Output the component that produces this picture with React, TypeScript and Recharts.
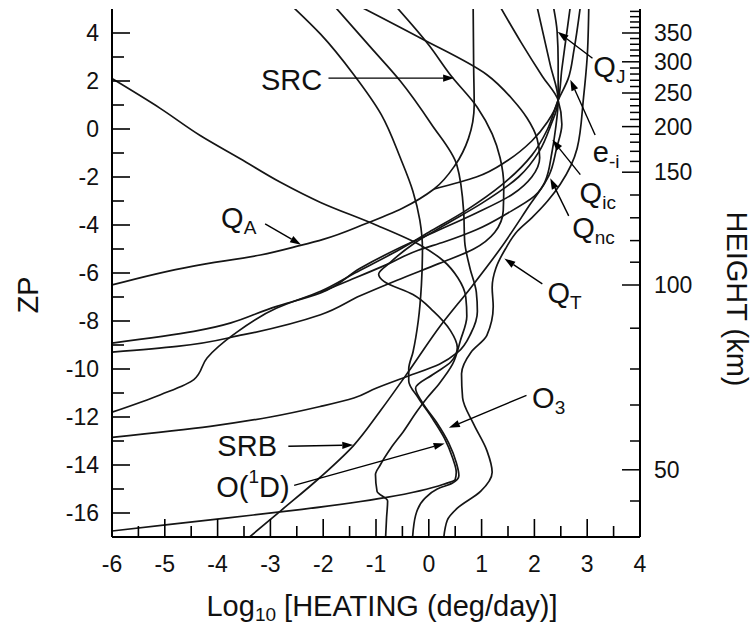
import React from "react";
import { LineChart, Line, XAxis, YAxis, ReferenceLine, ReferenceDot } from "recharts";

const FONT = "'Liberation Sans', Arial, Helvetica, sans-serif";

// [log10 heating, ZP]
const qT = [[3.03,5.1],[3.0,3.0],[2.93,1.3],[2.81,-0.8],[2.49,-2.3],[2.25,-3.0],[1.95,-3.7],[1.68,-4.25],[1.45,-5.0],[1.27,-5.8],[1.2,-6.6],[1.22,-7.4],[1.1,-8.6],[0.8,-9.3],[0.62,-10.2],[0.64,-11.2],[0.85,-12.3],[1.1,-13.4],[1.2,-14.3],[0.98,-15.1],[0.54,-15.8],[0.35,-16.3],[0.28,-17.1]];
const curveA = [[-6,2.1],[-5.08,0.85],[-4.33,-0.27],[-3.57,-1.24],[-2.81,-2.22],[-2.05,-3.06],[-1.0,-4.0],[-0.15,-4.85],[0.28,-5.5],[0.55,-6.2],[0.7,-7.0],[0.72,-7.8],[0.6,-8.8],[0.45,-9.8],[0.2,-10.6],[-0.03,-11.2],[-0.22,-11.75],[-0.48,-12.6],[-0.72,-13.3],[-0.92,-14.0],[-1.01,-14.4],[-0.98,-15.1],[-0.78,-15.5],[-0.8,-16.2],[-0.82,-17.1]];
const curveB = [[-1.78,5.1],[-1.1,3.4],[-0.54,2.0],[0.05,0.2],[0.53,-1.49],[0.66,-3.43],[0.68,-4.7],[0.78,-5.8],[0.9,-6.8],[0.92,-7.6],[0.8,-8.5],[0.55,-9.3],[0.2,-9.8],[-0.4,-10.3],[-1.0,-10.8],[-1.42,-11.21],[-2.05,-11.56],[-3.0,-12.0],[-4.14,-12.39],[-6,-12.85]];
const o3 = [[-2.58,5.1],[-2.05,3.95],[-1.42,2.26],[-0.9,0.6],[-0.54,-1.2],[-0.3,-2.6],[-0.17,-3.8],[-0.12,-5.0],[-0.14,-6.5],[-0.2,-8.0],[-0.3,-9.3],[-0.38,-10.0],[-0.38,-10.5],[-0.2,-11.2],[0.05,-12.0],[0.3,-12.9],[0.45,-13.7],[0.52,-14.3],[0.5,-14.6],[0.28,-14.8],[-0.8,-15.35],[-2.4,-15.85],[-3.8,-16.2],[-6,-16.75]];
const o1d = [[2.36,5.1],[2.43,4.07],[2.45,2.8],[2.45,1.2],[2.3,0.1],[2.1,-0.9],[1.7,-2.0],[1.0,-3.1],[0.3,-4.0],[-0.3,-4.8],[-0.75,-5.6],[-0.95,-6.05],[-0.85,-6.35],[-0.3,-6.9],[0.09,-7.6],[0.41,-8.4],[0.54,-9.1],[0.42,-9.7],[0.1,-10.2],[-0.25,-10.8],[-0.12,-11.4],[0.14,-12.2],[0.38,-13.1],[0.52,-13.9],[0.57,-14.45],[0.45,-14.75],[0.16,-15.0],[-0.08,-15.4],[-0.25,-16.1],[-0.31,-17.1]];
const src = [[-0.62,5.1],[0.0,3.5],[0.41,2.25],[0.92,0.9],[1.2,-0.2],[1.35,-1.2],[1.42,-2.4],[1.41,-3.4],[1.25,-4.3],[0.85,-5.0],[0.2,-5.6],[-0.6,-6.3],[-1.3,-6.95],[-2.05,-7.74],[-3.51,-8.57],[-4.77,-9.06],[-6,-9.3]];
const qA = [[0.84,5.1],[0.85,2.5],[0.86,1.0],[0.75,-0.4],[0.5,-1.5],[0.1,-2.5],[-0.5,-3.3],[-1.2,-3.95],[-2.0,-4.6],[-2.43,-4.85],[-3.19,-5.25],[-4.46,-5.71],[-6,-6.5]];
const curveC = [[-1.3,5.1],[-0.16,3.79],[1.1,2.26],[1.6,1.2],[1.86,0.46],[2.05,-0.4],[2.1,-1.2],[1.95,-2.0],[1.6,-2.7],[0.9,-3.5],[0.1,-4.3],[-0.6,-5.0],[-1.3,-5.8],[-2.05,-6.83],[-2.88,-7.39],[-4.45,-8.43],[-6,-8.92]];
const eI = [[2.87,5.1],[2.75,3.3],[2.64,2.1],[2.45,1.2],[2.25,0.0],[1.95,-1.1],[1.4,-2.3],[0.7,-3.4],[0.0,-4.3],[-0.7,-5.2],[-1.4,-6.0],[-2.05,-6.76],[-2.88,-7.46],[-3.7,-8.57],[-4.2,-9.54],[-4.45,-10.44],[-5.08,-11.07],[-6,-11.8]];
const qIc = [[2.05,5.1],[2.3,2.67],[2.45,1.2],[2.4,0.0],[2.33,-1.0],[2.2,-2.2],[1.9,-3.2],[1.35,-5.0],[0.8,-6.6],[0.22,-8.2],[-0.35,-10.0],[-0.92,-11.75],[-1.43,-13.2],[-2.05,-14.5],[-2.8,-15.9],[-3.45,-17.1]];
const qNc = [[1.35,5.1],[1.75,3.6],[2.15,2.2],[2.45,1.2],[2.52,0.2],[2.42,-0.8],[2.27,-1.96],[2.0,-2.8],[1.5,-3.5],[0.9,-4.2],[0.3,-4.7],[-0.2,-5.05],[-0.8,-5.65],[-1.5,-6.3],[-2.05,-6.8]];
const qJ = [[2.68,5.1],[2.6,3.8],[2.52,2.5],[2.45,1.2],[2.25,0.3],[1.95,-0.5],[1.5,-1.3],[0.9,-2.0],[0.1,-2.5]];

const curves = [qT, curveA, curveB, o3, o1d, src, qA, curveC, eI, qIc, qNc, qJ];

const xTicks = [-6,-5.5,-5,-4.5,-4,-3.5,-3,-2.5,-2,-1.5,-1,-0.5,0,0.5,1,1.5,2,2.5,3,3.5,4];
const zpTicks = [-16,-15,-14,-13,-12,-11,-10,-9,-8,-7,-6,-5,-4,-3,-2,-1,0,1,2,3,4];
const kmValues = [40,50,60,70,80,90,100,110,120,130,140,150,160,170,180,190,200,210,220,230,240,250,260,270,280,290,300,310,320,330,340,350,360,370,380,390];
const kmZp = [-15.5,-14.2,-13.0,-11.5,-10.0,-8.3,-6.5,-5.55,-4.65,-3.7,-2.75,-1.8,-1.35,-0.93,-0.55,-0.22,0.1,0.4,0.69,0.97,1.24,1.5,1.77,2.03,2.29,2.54,2.8,3.05,3.29,3.53,3.77,4.0,4.23,4.46,4.68,4.9];
const kmLabelled = [50,100,150,200,250,300,350];

// annotations: label text position and arrow (from -> to)
const notes = [
  { main: "SRC", sub: "", tx: -2.6, ty: 2.05, from: [-1.9, 2.12], to: [0.48, 2.12] },
  { main: "Q", sub: "A", tx: -3.6, ty: -3.7, from: [-3.1, -3.95], to: [-2.42, -4.82] },
  { main: "SRB", sub: "", tx: -3.44, ty: -13.22, from: [-2.66, -13.22], to: [-1.43, -13.17] },
  { main: "O(", sup: "1", tail: "D)", tx: -3.33, ty: -14.9, from: [-2.55, -14.85], to: [0.3, -13.1] },
  { main: "O", sub: "3", tx: 2.27, ty: -11.22, from: [1.85, -11.1], to: [0.38, -12.45] },
  { main: "Q", sub: "T", tx: 2.57, ty: -6.85, from: [2.15, -6.45], to: [1.43, -5.4] },
  { main: "Q", sub: "nc", tx: 3.12, ty: -4.12, from: [2.65, -3.62], to: [2.3, -2.05] },
  { main: "Q", sub: "ic", tx: 3.2, ty: -2.65, from: [2.87, -1.9], to: [2.34, -0.45] },
  { main: "e", sub: "-i", tx: 3.36, ty: -0.95, from: [3.15, -0.25], to: [2.68, 2.05] },
  { main: "Q", sub: "J", tx: 3.42, ty: 2.6, from: [3.1, 2.95], to: [2.44, 4.05] },
];

const toPts = (c: number[][]) => c.map(([x, y]) => ({ x, y }));

const BottomTick = (p: any) => {
  const { x, y, payload } = p;
  const major = Number.isInteger(payload.value);
  return (
    <g>
      <line x1={x} y1={y} x2={x} y2={y - (major ? 18 : 11)} stroke="#000" strokeWidth={1.6} />
      {major && (
        <text x={x} y={y + 27} textAnchor="middle" dominantBaseline="central" fontSize={23} fontFamily={FONT} fill="#111">
          {payload.value}
        </text>
      )}
    </g>
  );
};

const TopTick = (p: any) => {
  const { x, y, payload } = p;
  const major = Number.isInteger(payload.value);
  return <line x1={x} y1={y} x2={x} y2={y + (major ? 18 : 11)} stroke="#000" strokeWidth={1.6} />;
};

const LeftTick = (p: any) => {
  const { x, y, payload } = p;
  const major = payload.value % 2 === 0;
  return (
    <g>
      <line x1={x} y1={y} x2={x + (major ? 18 : 12)} y2={y} stroke="#000" strokeWidth={1.6} />
      {major && (
        <text x={x - 13} y={y} textAnchor="end" dominantBaseline="central" fontSize={23} fontFamily={FONT} fill="#111">
          {payload.value}
        </text>
      )}
    </g>
  );
};

const RightTick = (p: any) => {
  const { x, y, index } = p;
  const km = kmValues[index];
  const major = kmLabelled.includes(km);
  return (
    <g>
      <line x1={x} y1={y} x2={x - (major ? 18 : 10)} y2={y} stroke="#000" strokeWidth={1.5} />
      {major && (
        <text x={x + 14} y={y} textAnchor="start" dominantBaseline="central" fontSize={23} fontFamily={FONT} fill="#111">
          {km}
        </text>
      )}
    </g>
  );
};

const Arrow = (p: any) => {
  const { x1, y1, x2, y2 } = p;
  const a = Math.atan2(y2 - y1, x2 - x1);
  const len = 11;
  const w = 3.6;
  const bx = x2 - len * Math.cos(a);
  const by = y2 - len * Math.sin(a);
  const pts = `${x2},${y2} ${bx - w * Math.sin(a)},${by + w * Math.cos(a)} ${bx + w * Math.sin(a)},${by - w * Math.cos(a)}`;
  return (
    <g>
      <line x1={x1} y1={y1} x2={bx} y2={by} stroke="#000" strokeWidth={1.4} />
      <polygon points={pts} fill="#000" />
    </g>
  );
};

const noteLabel = (n: any) => (p: any) => (
  <text x={p.cx} y={p.cy} textAnchor="middle" dominantBaseline="central" fontSize={29} fontFamily={FONT} fill="#111">
    {n.main}
    {n.sub ? <tspan fontSize={19} dy={9}>{n.sub}</tspan> : null}
    {n.sup ? <tspan fontSize={19} dy={-11}>{n.sup}</tspan> : null}
    {n.tail ? <tspan dy={11}>{n.tail}</tspan> : null}
  </text>
);

const XTitle = (p: any) => {
  const vb = p.viewBox;
  return (
    <text x={vb.x + vb.width / 2 + 6} y={vb.y + 69} textAnchor="middle" dominantBaseline="central" fontSize={29} fontFamily={FONT} fill="#111">
      Log<tspan fontSize={19} dy={8}>10</tspan>
      <tspan dy={-8}> [HEATING (deg/day)]</tspan>
    </text>
  );
};

const LeftTitle = () => (
  <text x={28} y={295} transform="rotate(-90 28 295)" textAnchor="middle" dominantBaseline="central" fontSize={29} fontFamily={FONT} fill="#111">
    ZP
  </text>
);

const RightTitle = () => (
  <text x={737} y={299} transform="rotate(90 737 299)" textAnchor="middle" dominantBaseline="central" fontSize={29} fontFamily={FONT} fill="#111">
    HEIGHT (km)
  </text>
);

export default function App() {
  return (
    <div style={{ position: "absolute", left: 0, top: 0, background: "#fff" }}>
      <LineChart width={754} height={632} margin={{ top: 9, right: 0, bottom: 0, left: 0 }}>
        <XAxis
          xAxisId="b"
          type="number"
          dataKey="x"
          domain={[-6, 4]}
          allowDataOverflow
          ticks={xTicks}
          interval={0}
          height={95}
          tickSize={0}
          tickMargin={0}
          tickLine={false}
          axisLine={{ stroke: "#000", strokeWidth: 2 }}
          tick={<BottomTick />}
          label={<XTitle />}
        />
        <XAxis
          xAxisId="t"
          orientation="top"
          type="number"
          dataKey="x"
          domain={[-6, 4]}
          allowDataOverflow
          ticks={xTicks}
          interval={0}
          height={0}
          tickSize={0}
          tickMargin={0}
          tickLine={false}
          axisLine={{ stroke: "#000", strokeWidth: 2 }}
          tick={<TopTick />}
        />
        <YAxis
          yAxisId="l"
          type="number"
          dataKey="y"
          domain={[-17, 5]}
          allowDataOverflow
          ticks={zpTicks}
          interval={0}
          width={112}
          tickSize={0}
          tickMargin={0}
          tickLine={false}
          axisLine={{ stroke: "#000", strokeWidth: 2 }}
          tick={<LeftTick />}
          label={<LeftTitle />}
        />
        <YAxis
          yAxisId="r"
          orientation="right"
          type="number"
          domain={[-17, 5]}
          allowDataOverflow
          ticks={kmZp}
          interval={0}
          width={114}
          tickSize={0}
          tickMargin={0}
          tickLine={false}
          axisLine={{ stroke: "#000", strokeWidth: 2 }}
          tick={<RightTick />}
          label={<RightTitle />}
        />
        {curves.map((c, i) => (
          <Line
            key={i}
            xAxisId="b"
            yAxisId="l"
            data={toPts(c)}
            dataKey="y"
            type="monotoneY"
            stroke="#151515"
            strokeWidth={1.7}
            dot={false}
            activeDot={false}
            isAnimationActive={false}
          />
        ))}
        {notes.map((n, i) => (
          <ReferenceLine
            key={"a" + i}
            xAxisId="b"
            yAxisId="l"
            segment={[{ x: n.from[0], y: n.from[1] }, { x: n.to[0], y: n.to[1] }]}
            shape={Arrow}
            ifOverflow="visible"
          />
        ))}
        {notes.map((n, i) => (
          <ReferenceDot
            key={"t" + i}
            xAxisId="b"
            yAxisId="l"
            x={n.tx}
            y={n.ty}
            r={0}
            ifOverflow="visible"
            shape={noteLabel(n)}
          />
        ))}
      </LineChart>
    </div>
  );
}
